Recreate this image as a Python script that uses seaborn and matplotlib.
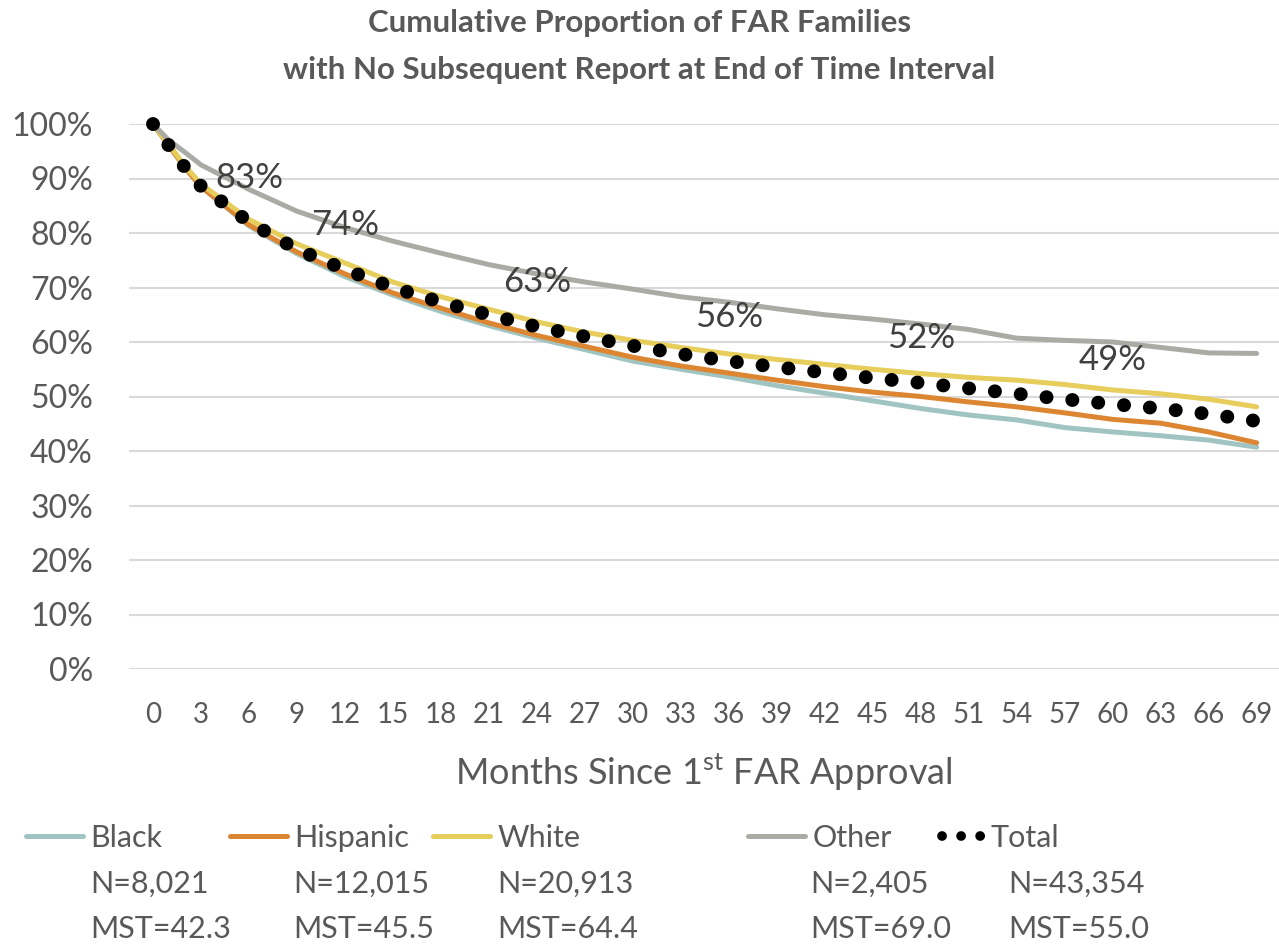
import matplotlib
matplotlib.use('Agg')
import matplotlib.pyplot as plt
from matplotlib.lines import Line2D
import seaborn as sns
import pandas as pd

# values (percent still without a subsequent report)
months = [0, 1, 2, 3, 6, 9, 12, 15, 18, 21, 24, 27, 30, 33, 36, 39, 42, 45, 48, 51, 54, 57, 60, 63, 66, 69]
black = [100, 96.0, 92.0, 88.5, 81.3, 76.2, 72.0, 68.6, 65.6, 63.0, 60.7, 58.6, 56.5, 55.0, 53.6, 52.0,
         50.6, 49.2, 47.8, 46.6, 45.7, 44.3, 43.5, 42.8, 42.0, 40.7]
hispanic = [100, 96.0, 92.0, 88.5, 81.5, 76.5, 72.5, 69.0, 66.2, 63.5, 61.2, 59.2, 57.2, 55.6, 54.3, 53.0,
            51.8, 50.8, 50.0, 49.0, 48.1, 47.0, 45.8, 45.1, 43.5, 41.5]
white = [100, 96.2, 92.3, 89.0, 82.5, 78.0, 74.5, 71.0, 68.3, 66.0, 63.7, 61.8, 60.3, 59.0, 57.8, 56.8,
         55.9, 55.0, 54.2, 53.5, 53.0, 52.2, 51.2, 50.5, 49.5, 48.1]
other = [100, 97.0, 94.8, 92.5, 88.0, 84.0, 81.0, 78.5, 76.3, 74.2, 72.5, 71.0, 69.7, 68.3, 67.3, 66.1,
         65.0, 64.2, 63.3, 62.3, 60.7, 60.3, 60.0, 59.0, 58.0, 57.9]
total = [100, 96.0, 92.0, 88.6, 82.0, 77.0, 73.3, 70.0, 67.3, 65.0, 62.8, 61.0, 59.3, 57.8, 56.5, 55.4,
         54.4, 53.4, 52.5, 51.5, 50.5, 49.5, 48.6, 47.8, 46.8, 45.5]

label_months = [6, 12, 24, 36, 48, 60]
label_texts = ['83%', '74%', '63%', '56%', '52%', '49%']

groups = ['Black', 'Hispanic', 'White', 'Other', 'Total']
group_n = ['N=8,021', 'N=12,015', 'N=20,913', 'N=2,405', 'N=43,354']
group_mst = ['MST=42.3', 'MST=45.5', 'MST=64.4', 'MST=69.0', 'MST=55.0']
colors = {'Black': '#A0C4C1', 'Hispanic': '#DD8632', 'White': '#E6CD5C', 'Other': '#ABABA6'}

sns.set_theme(style='white')
plt.rcParams['font.family'] = ['Lato', 'DejaVu Sans']
plt.rcParams['mathtext.fontset'] = 'custom'
plt.rcParams['mathtext.rm'] = 'Lato'
txt = '#595959'

df = pd.DataFrame({
    'month': months * 4,
    'pct': black + hispanic + white + other,
    'group': ['Black'] * len(months) + ['Hispanic'] * len(months) + ['White'] * len(months) + ['Other'] * len(months),
})

fig = plt.figure(figsize=(12.79, 9.44), dpi=100)
ax = fig.add_axes([129 / 1279, 1 - 669 / 944, 1150 / 1279, 545 / 944])

sns.lineplot(data=df, x='month', y='pct', hue='group', palette=colors, linewidth=3.6,
             legend=False, ax=ax, clip_on=False, solid_capstyle='round')
sns.lineplot(x=months, y=total, color='black', linewidth=10, linestyle=(0, (0.01, 1.86)),
             dash_capstyle='round', ax=ax, clip_on=False)

# data labels for the total line
for m, t in zip(label_months, label_texts):
    ax.annotate(t, (m, total[months.index(m)]), xytext=(0, 32), textcoords='offset points',
                ha='center', va='center', fontsize=25, color='#404040')

ax.set_xlim(-1.5, 70.4)
ax.set_ylim(0, 100)
ax.set_xticks(range(0, 70, 3))
ax.set_yticks(range(0, 101, 10))
ax.set_yticklabels([f'{v}%' for v in range(0, 101, 10)])
ax.tick_params(axis='y', length=0, pad=26, labelsize=23, labelcolor=txt)
ax.tick_params(axis='x', length=0, pad=24, labelsize=20, labelcolor=txt)
ax.yaxis.grid(True, color='#D9D9D9', linewidth=1.5)
ax.xaxis.grid(False)
ax.set_axisbelow(True)
sns.despine(ax=ax, left=True, bottom=True)
ax.set_ylabel('')
ax.set_xlabel('Months Since 1$^{\\mathrm{st}}$ FAR Approval', fontsize=26, color=txt, va='center')
ax.xaxis.set_label_coords(0.5, (669 - 772) / 545)

fig.text(0.5, 1 - 32 / 944, 'Cumulative Proportion of FAR Families', ha='center', va='baseline',
         fontsize=22.5, fontweight='bold', color=txt)
fig.text(0.5, 1 - 79 / 944, 'with No Subsequent Report at End of Time Interval', ha='center', va='baseline',
         fontsize=22.5, fontweight='bold', color=txt)

# legend: one entry per group, with N and MST lines beneath
handle_x = [26, 230, 433, 748, 942]
text_x = [90, 293, 497, 810, 1008]
for i, g in enumerate(groups):
    if g == 'Total':
        h = Line2D([], [], color='black', linewidth=7, linestyle=(0, (0.01, 1.95)), dash_capstyle='round')
        hl = 1.35
    else:
        h = Line2D([], [], color=colors[g], linewidth=3.6, solid_capstyle='round')
        hl = 1.85
    fig.legend(handles=[h], labels=[g], loc='center left', bbox_to_anchor=(handle_x[i] / 1279, 1 - 838 / 944),
               frameon=False, fontsize=22, labelcolor=txt, handlelength=hl, handletextpad=0.25,
               borderpad=0, borderaxespad=0)
    fig.text(text_x[i] / 1279, 1 - 884 / 944, group_n[i], ha='left', va='center', fontsize=22, color=txt)
    fig.text(text_x[i] / 1279, 1 - 929 / 944, group_mst[i], ha='left', va='center', fontsize=22, color=txt)

fig.savefig('out.png', dpi=100)
